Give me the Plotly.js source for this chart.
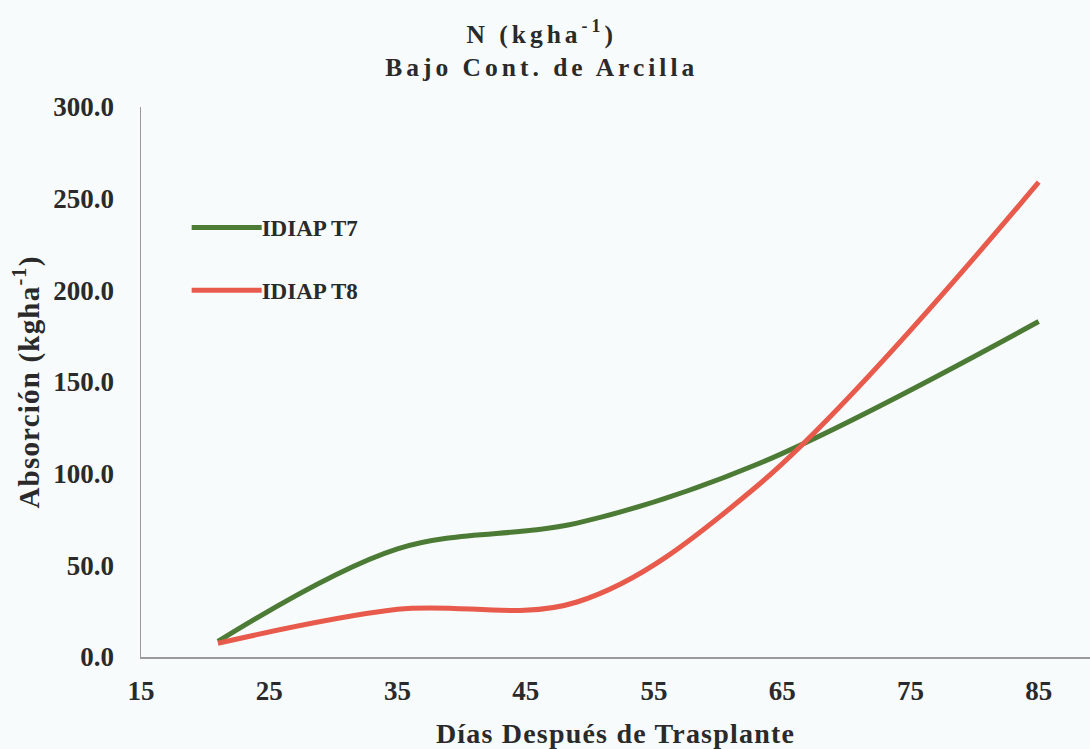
<!DOCTYPE html>
<html>
<head>
<meta charset="utf-8">
<script src="https://cdn.plot.ly/plotly-3.0.1.min.js"></script>
<style>
  html, body { margin: 0; padding: 0; background: #f7fbfb; }
  #chart { width: 1090px; height: 749px; }
  .gtitle { letter-spacing: 4px; }
  .g-xtitle text { letter-spacing: 1.2px; }
  .g-ytitle text { letter-spacing: 1.2px; }
  .g-ytitle { transform: translateX(-34px); }
  /* longer legend swatches that run right up to the entry text */
  .legend .scrollbox { clip-path: none !important; }
  .legendlines path { d: path("M-30,0h70"); }
</style>
</head>
<body>
<div id="chart"></div>
<script>
// Days after transplanting (sampling dates)
const dias = [21, 35, 49, 63, 85];
// N uptake, kg/ha
const idiapT7 = [8.5, 59, 73, 105, 183];
const idiapT8 = [7.5, 26, 30, 93, 259];
const xTicks = [15, 25, 35, 45, 55, 65, 75, 85];
const yTicks = [0, 50, 100, 150, 200, 250, 300];
const yTickText = yTicks.map(v => v.toFixed(1));

const serif = "Liberation Serif, Times New Roman, serif";
const ink = '#2a2a2a';

const traces = [
  {
    x: dias, y: idiapT7, name: 'IDIAP T7', mode: 'lines', legendgroup: 'g7',
    line: { color: '#4b7b34', width: 5, shape: 'spline', smoothing: 1 }
  },
  {
    x: dias, y: idiapT8, name: 'IDIAP T8', mode: 'lines', legendgroup: 'g8',
    line: { color: '#e85a4c', width: 5, shape: 'spline', smoothing: 1 }
  }
];

const layout = {
  width: 1090, height: 749,
  paper_bgcolor: '#f7fbfb', plot_bgcolor: '#f7fbfb',
  margin: { l: 141, r: 0, t: 107, b: 92 },
  font: { family: serif, color: ink, weight: 'bold' },
  title: {
    text: 'N (kgha<sup>-1</sup>)<br>Bajo Cont. de Arcilla',
    font: { family: serif, size: 25.5, weight: 'bold', color: ink },
    x: 0.497, xanchor: 'center', y: 0.943, yanchor: 'top'
  },
  xaxis: {
    range: [15, 89], tickvals: xTicks, ticktext: xTicks.map(String),
    showgrid: false, zeroline: false, showline: true, linecolor: '#9a9a9a', linewidth: 1.5,
    ticks: '', ticklabelstandoff: 9,
    tickfont: { family: serif, size: 27, weight: 'bold', color: ink },
    title: { text: 'Días Después de Trasplante', font: { family: serif, size: 28, weight: 'bold', color: ink } },
    automargin: false
  },
  yaxis: {
    range: [0, 300], tickvals: yTicks, ticktext: yTickText,
    showgrid: false, zeroline: false, showline: true, linecolor: '#9a9a9a', linewidth: 1.5,
    ticks: '', ticklabelstandoff: 20,
    tickfont: { family: serif, size: 27, weight: 'bold', color: ink },
    title: { text: 'Absorción (kgha<sup>-1</sup>)', font: { family: serif, size: 29, weight: 'bold', color: ink } },
    automargin: false
  },
  showlegend: true,
  legend: {
    x: 0.085, y: 0.82, xanchor: 'left', yanchor: 'top',
    bgcolor: 'rgba(0,0,0,0)', traceorder: 'grouped', tracegroupgap: 30,
    font: { family: serif, size: 23, weight: 'bold', color: ink }
  }
};

Plotly.newPlot('chart', traces, layout, { displayModeBar: false, staticPlot: true });
</script>
</body>
</html>
